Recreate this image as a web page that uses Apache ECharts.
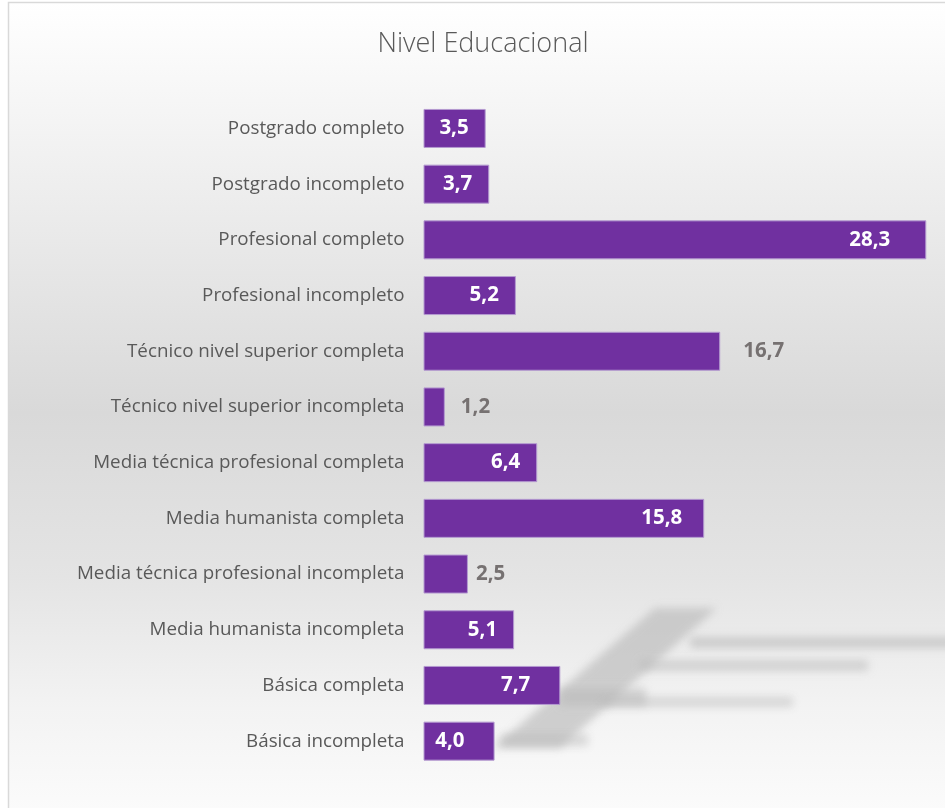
<!DOCTYPE html>
<html>
<head>
<meta charset="utf-8">
<title>Nivel Educacional</title>
<script src="https://cdn.jsdelivr.net/npm/echarts@6/dist/echarts.min.js"></script>
<style>
  html, body { margin: 0; padding: 0; background: #fff; }
  #main { width: 945px; height: 808px; }
</style>
</head>
<body>
<div id="main"></div>
<script>
// datos del grafico
var categorias = [
    'Postgrado completo',
    'Postgrado incompleto',
    'Profesional completo',
    'Profesional incompleto',
    'Técnico nivel superior completa',
    'Técnico nivel superior incompleta',
    'Media técnica profesional completa',
    'Media humanista completa',
    'Media técnica profesional incompleta',
    'Media humanista incompleta',
    'Básica completa',
    'Básica incompleta'
];
var valores = [3.5, 3.7, 28.3, 5.2, 16.7, 1.2, 6.4, 15.8, 2.5, 5.1, 7.7, 4.0];

// etiquetas que van fuera de la barra (indice -> separacion)
var fuera = {4: 23, 5: 16, 8: 8};
// separacion de etiquetas dentro de la barra
var dentro = {2: 36, 10: 30, 11: 30, 7: 22};

var myChart = echarts.init(document.getElementById('main'));

function fmt(v) {
    return v.toFixed(1).replace('.', ',');
}

var datos = valores.map(function (v, i) {
    var item = {value: v};
    if (fuera[i] !== undefined) {
        item.label = {position: 'right', distance: fuera[i], color: '#767171'};
    } else {
        item.label = {position: 'insideRight', distance: dentro[i] || 17, color: '#ffffff'};
    }
    return item;
});

// la marca de agua se dibuja fuera de pantalla y solo se ve su sombra (difusa)
var OFF = 2000;
function mancha(shapeType, shape, color) {
    return {
        type: shapeType,
        z: -5,
        shape: shape,
        x: -OFF,
        style: {
            fill: color,
            shadowBlur: 9,
            shadowColor: color,
            shadowOffsetX: OFF
        }
    };
}

option = {
    animation: false,
    backgroundColor: '#ffffff',
    textStyle: {fontFamily: 'Open Sans'},
    title: {
        text: 'Nivel Educacional',
        left: 478,
        top: 26,
        textAlign: 'center',
        textStyle: {
            fontFamily: 'Open Sans',
            fontWeight: 300,
            fontSize: 27,
            color: '#595959'
        }
    },
    graphic: [
        // fondo degradado del area del grafico
        {
            type: 'rect',
            z: -10,
            shape: {x: 8.5, y: 2.5, width: 960, height: 820},
            style: {
                fill: new echarts.graphic.LinearGradient(0, 0, 0, 1, [
                    {offset: 0, color: '#ffffff'},
                    {offset: 0.12, color: '#f6f6f6'},
                    {offset: 0.5, color: '#d9d9d9'},
                    {offset: 0.7, color: '#e4e4e4'},
                    {offset: 0.86, color: '#f3f3f3'},
                    {offset: 1, color: '#fcfcfc'}
                ]),
                stroke: '#d9d9d9',
                lineWidth: 1.5
            }
        },
        mancha('polygon', {points: [[655, 608], [717, 608], [560, 748], [493, 748]]}, 'rgba(185,185,185,0.8)'),
        mancha('rect', {x: 690, y: 637, width: 280, height: 11}, 'rgba(185,185,185,0.8)'),
        mancha('rect', {x: 640, y: 660, width: 228, height: 11}, 'rgba(185,185,185,0.75)'),
        mancha('rect', {x: 560, y: 688, width: 86, height: 18}, 'rgba(185,185,185,0.75)'),
        mancha('rect', {x: 600, y: 697, width: 193, height: 10}, 'rgba(185,185,185,0.7)'),
        mancha('rect', {x: 500, y: 734, width: 88, height: 12}, 'rgba(185,185,185,0.7)')
    ],
    grid: {
        left: 423.5,
        top: 100.6,
        width: 533,
        bottom: 39,
        outerBoundsMode: 'none'
    },
    xAxis: {
        type: 'value',
        min: 0,
        max: 30,
        show: false,
        splitLine: {show: false}
    },
    yAxis: {
        type: 'category',
        inverse: true,
        data: categorias,
        axisLine: {show: false},
        axisTick: {show: false},
        axisLabel: {
            margin: 19,
            fontFamily: 'Open Sans',
            fontSize: 18.8,
            color: '#595959'
        }
    },
    series: [
        {
            name: 'Nivel Educacional',
            type: 'bar',
            barWidth: 39,
            itemStyle: {
                color: '#7030a0',
                borderColor: '#b49ad0',
                borderWidth: 1
            },
            label: {
                show: true,
                fontFamily: 'Open Sans',
                fontWeight: 'bold',
                fontSize: 20.5,
                formatter: function (p) {
                    return fmt(p.value);
                }
            },
            data: datos
        }
    ]
};
myChart.setOption(option);
</script>
</body>
</html>
